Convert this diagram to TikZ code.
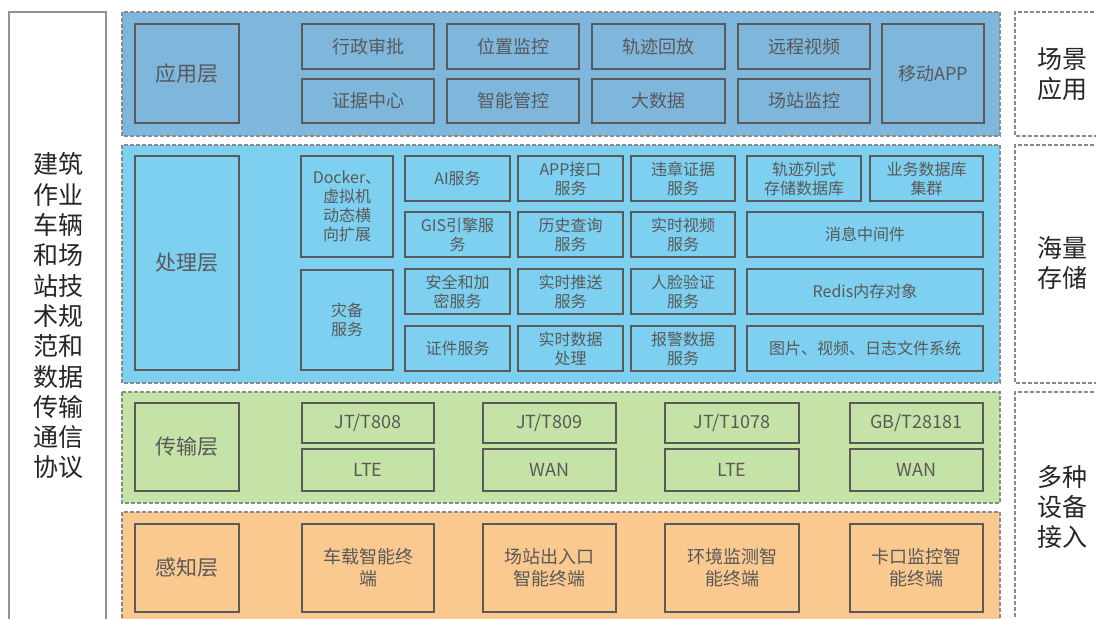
\documentclass[tikz,border=0pt]{standalone}
\usepackage{fontspec}
\setmainfont{Noto Sans CJK SC}
\definecolor{appc}{HTML}{7EB6DC}
\definecolor{proc}{HTML}{7DD0F0}
\definecolor{trac}{HTML}{C6E3A7}
\definecolor{perc}{HTML}{F9C98F}
\definecolor{boxline}{HTML}{5A5A5A}
\definecolor{boxtext}{HTML}{595959}
\definecolor{dashc}{HTML}{8A8A8A}
\tikzset{
  layer/.style={draw=dashc,line width=1.2pt,dash pattern=on 4pt off 2pt},
  side/.style={draw=dashc,line width=1.2pt,dash pattern=on 4pt off 2pt,fill=white},
  box/.style={draw=boxline,line width=1.6pt,text=boxtext,align=center,inner sep=0pt},
  fa/.style={font=\fontsize{18}{22}\selectfont},
  fp/.style={font=\fontsize{16}{19}\selectfont},
  fl/.style={font=\fontsize{21}{25}\selectfont},
  big/.style={font=\fontsize{25}{30.3}\selectfont,text=black!85,align=center,inner sep=0pt}
}
\newcommand{\bx}[7][]{\node[box,#1,minimum width={(#5-#3)*1pt},minimum height={(#6-#4)*1pt}] (#2) at ({(#3+#5)/2},{(#4+#6)/2}) {#7};}
\begin{document}
\begin{tikzpicture}[x=1pt,y=-1pt]
\useasboundingbox (0,0) rectangle (1096,619);
\clip (0,0) rectangle (1096,619);
\fill[white] (0,0) rectangle (1096,619);
% left column
\draw[draw=gray!85,line width=1.5pt] (9,625) -- (9,12) -- (106,12) -- (106,625);
\node[big] (leftt) at (58,316) {建筑\\作业\\车辆\\和场\\站技\\术规\\范和\\数据\\传输\\通信\\协议};
% right side boxes
\draw[side] (1100,12) -- (1015,12) -- (1015,136) -- (1100,136);
\node[big] (r1) at (1062,74) {场景\\应用};
\draw[side] (1100,145) -- (1015,145) -- (1015,383) -- (1100,383);
\node[big] (r2) at (1062,263) {海量\\存储};
\draw[side] (1100,392) -- (1015,392) -- (1015,625);
\node[big] (r3) at (1062,507) {多种\\设备\\接入};
% layers
\draw[layer,fill=appc] (122,12) rectangle (1000,136);
\draw[layer,fill=proc] (122,145) rectangle (1000,383);
\draw[layer,fill=trac] (122,392) rectangle (1000,503);
\draw[layer,fill=perc] (122,512) rectangle (1000,630);
% application layer
\bx[fl]{l1}{135}{24}{239}{123}{应用层}
\bx[fa]{a1}{302}{24}{434}{69}{行政审批}
\bx[fa]{a2}{447}{24}{579}{69}{位置监控}
\bx[fa]{a3}{592}{24}{725}{69}{轨迹回放}
\bx[fa]{a4}{738}{24}{870}{69}{远程视频}
\bx[fa]{a5}{302}{79}{434}{123}{证据中心}
\bx[fa]{a6}{447}{79}{579}{123}{智能管控}
\bx[fa]{a7}{592}{79}{725}{123}{大数据}
\bx[fa]{a8}{738}{79}{870}{123}{场站监控}
\bx[fa]{a9}{882}{24}{984}{123}{移动APP}
% processing layer
\bx[fl]{l2}{135}{156}{239}{370}{处理层}
\bx[fp]{p1}{301}{156}{393}{257}{Docker、\\虚拟机\\动态横\\向扩展}
\bx[fp]{p2}{301}{270}{393}{370}{灾备\\服务}
\bx[fp]{p3}{405}{156}{510}{201}{AI服务}
\bx[fp]{p4}{518}{156}{623}{201}{APP接口\\服务}
\bx[fp]{p5}{631}{156}{735}{201}{违章证据\\服务}
\bx[fp]{p6}{747}{156}{861}{201}{轨迹列式\\存储数据库}
\bx[fp]{p7}{870}{156}{983}{201}{业务数据库\\集群}
\bx[fp]{p8}{405}{212}{510}{257}{GIS引擎服\\务}
\bx[fp]{p9}{518}{212}{623}{257}{历史查询\\服务}
\bx[fp]{p10}{631}{212}{735}{257}{实时视频\\服务}
\bx[fp]{p11}{747}{212}{983}{257}{消息中间件}
\bx[fp]{p12}{405}{269}{510}{314}{安全和加\\密服务}
\bx[fp]{p13}{518}{269}{623}{314}{实时推送\\服务}
\bx[fp]{p14}{631}{269}{735}{314}{人脸验证\\服务}
\bx[fp]{p15}{747}{269}{983}{314}{Redis内存对象}
\bx[fp]{p16}{405}{326}{510}{371}{证件服务}
\bx[fp]{p17}{518}{326}{623}{371}{实时数据\\处理}
\bx[fp]{p18}{631}{326}{735}{371}{报警数据\\服务}
\bx[fp]{p19}{747}{326}{983}{371}{图片、视频、日志文件系统}
% transport layer
\bx[fl]{l3}{135}{403}{239}{491}{传输层}
\bx[fa]{t1}{302}{403}{434}{443}{JT/T808}
\bx[fa]{t2}{483}{403}{616}{443}{JT/T809}
\bx[fa]{t3}{665}{403}{799}{443}{JT/T1078}
\bx[fa]{t4}{850}{403}{983}{443}{GB/T28181}
\bx[fa]{t5}{302}{449}{434}{491}{LTE}
\bx[fa]{t6}{483}{449}{616}{491}{WAN}
\bx[fa]{t7}{665}{449}{799}{491}{LTE}
\bx[fa]{t8}{850}{449}{983}{491}{WAN}
% perception layer
\bx[fl]{l4}{135}{524}{239}{612}{感知层}
\bx[fa]{s1}{302}{524}{434}{612}{车载智能终\\端}
\bx[fa]{s2}{483}{524}{616}{612}{场站出入口\\智能终端}
\bx[fa]{s3}{665}{524}{799}{612}{环境监测智\\能终端}
\bx[fa]{s4}{850}{524}{983}{612}{卡口监控智\\能终端}
\end{tikzpicture}
\end{document}
